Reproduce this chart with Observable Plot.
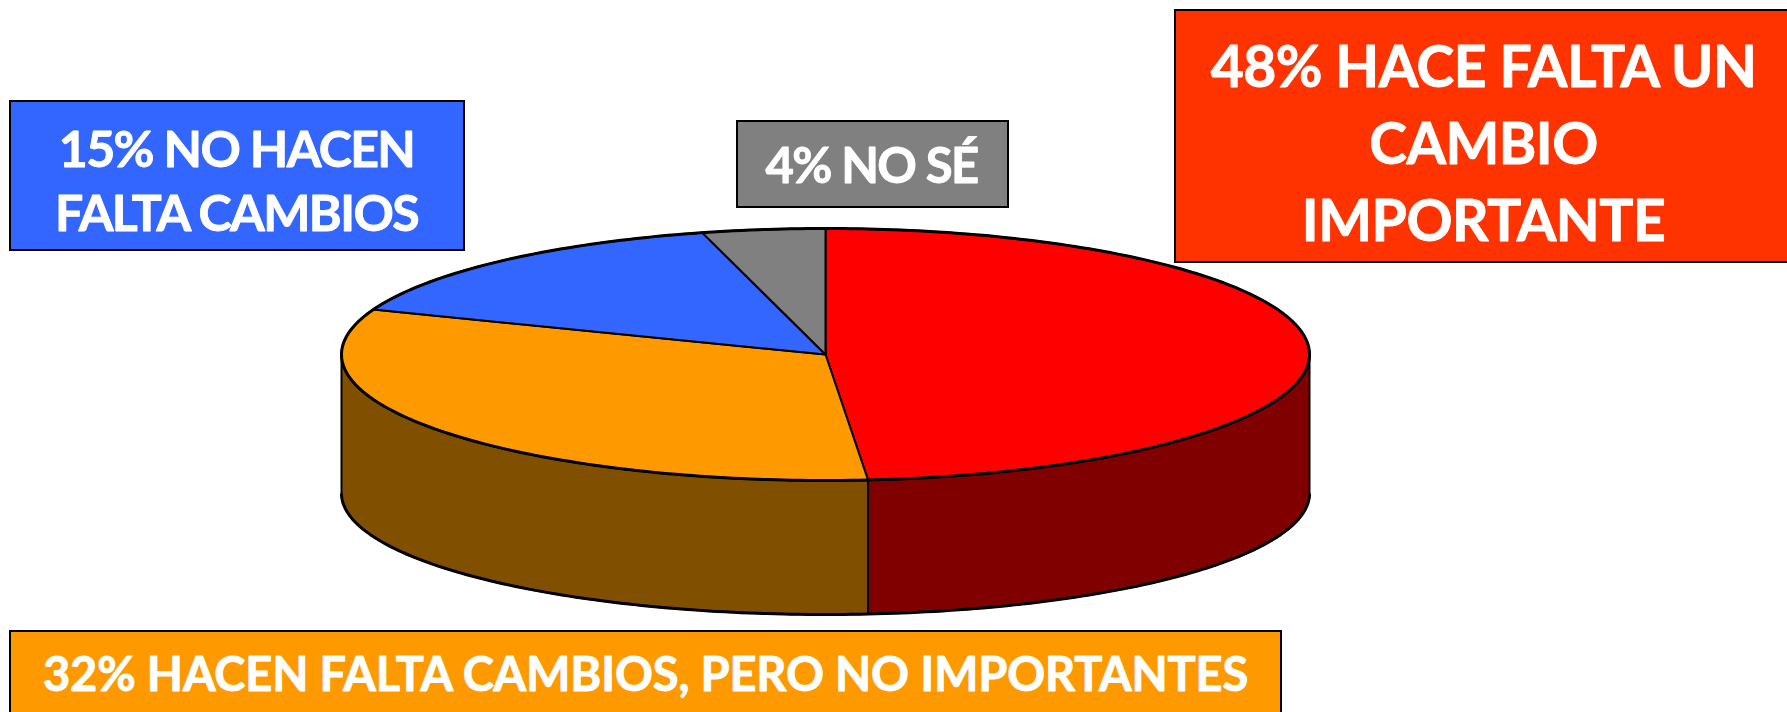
<!DOCTYPE html>
<html lang="es">
<head>
<meta charset="utf-8">
<title>Pie</title>
<script src="https://cdn.jsdelivr.net/npm/d3@7"></script>
<script src="https://cdn.jsdelivr.net/npm/@observablehq/plot@0.6"></script>
<style>
html,body{margin:0;padding:0;background:#fff;overflow:hidden}
svg{display:block}
</style>
</head>
<body>
<div id="chart"></div>
<script>
// Data
const categories = ["Hace falta un cambio importante", "Hacen falta cambios, pero no importantes", "No hacen falta cambios", "No sé"];
const shares = [48.6, 32.2, 15.1, 4.1];
const topColors = ["#ff0000", "#ff9900", "#3366ff", "#808080"];
const sideColors = ["#800000", "#804f00", "#1a3380", "#404040"];
const labels = ["48% HACE FALTA UN\nCAMBIO\nIMPORTANTE", "32% HACEN FALTA CAMBIOS, PERO NO IMPORTANTES", "15% NO HACEN\nFALTA CAMBIOS", "4% NO SÉ"];
const boxColors = ["#ff3300", "#ff9900", "#3366ff", "#808080"];

// Layout
const W = 1787, H = 712;
const cx = 825, cy = 354, rx = 484, ry = 126, depth = 139, bottomRy = 121;
const boxX1 = [1175, 10, 10, 737];
const boxX2 = [1800, 1281, 464, 1008];
const boxY1 = [10, 631, 101, 121];
const boxY2 = [262, 730, 250, 207];
const textX = [1483, 645, 236, 871];
const textY = [139, 675.7, 178, 166.6];
const fontSizes = [57, 47, 50, 49];
const lineHeights = [1.346, 1, 1.28, 1];
const tracking = [-0.5, -0.15, -1.6, -1.6];

const total = d3.sum(shares);
let acc = 0;
const slices = shares.map((v, i) => {
  const a0 = acc / total * 360;
  acc += v;
  return {i, a0, a1: acc / total * 360};
});
const px = a => cx + rx * Math.sin(a * Math.PI / 180);
const py = a => cy - ry * Math.cos(a * Math.PI / 180);
const pyBottom = a => cy + depth - bottomRy * Math.cos(a * Math.PI / 180);
const arc = (a0, a1) => {
  const out = [];
  const n = Math.max(2, Math.ceil(a1 - a0));
  for (let k = 0; k <= n; ++k) out.push(a0 + (a1 - a0) * k / n);
  return out;
};

const topPts = slices.flatMap(s => [
  {s: s.i, x: cx, y: cy},
  ...arc(s.a0, s.a1).map(a => ({s: s.i, x: px(a), y: py(a)}))
]);

const sidePts = slices.flatMap(s => {
  const a0 = Math.max(s.a0, 90), a1 = Math.min(s.a1, 270);
  if (a1 <= a0) return [];
  const as = arc(a0, a1);
  return [
    ...as.map(a => ({s: s.i, x: px(a), y: py(a)})),
    ...as.slice().reverse().map(a => ({s: s.i, x: px(a), y: pyBottom(a)}))
  ];
});

const rimPts = arc(0, 360).map(a => ({x: px(a), y: py(a)}));
const basePts = arc(90, 270).map(a => ({x: px(a), y: pyBottom(a)}));

const boxes = categories.map((c, i) => ({i, x1: boxX1[i], x2: boxX2[i], y1: boxY1[i], y2: boxY2[i]}));

const withTracking = v => function (index, scales, values, dims, ctx, next) {
  const g = next(index, scales, values, dims, ctx);
  g.style.letterSpacing = v + "px";
  return g;
};

const plot = Plot.plot({
  width: W, height: H,
  margin: 0,
  style: {background: "#fff"},
  x: {domain: [0, W], range: [0, W], axis: null},
  y: {domain: [0, H], range: [0, H], axis: null},
  marks: [
    Plot.line(sidePts, {x: "x", y: "y", z: "s", curve: "linear-closed",
      fill: d => sideColors[d.s], stroke: "#000", strokeWidth: 2, strokeLinejoin: "round"}),
    Plot.line(topPts, {x: "x", y: "y", z: "s", curve: "linear-closed",
      fill: d => topColors[d.s], stroke: "#000", strokeWidth: 2, strokeLinejoin: "round"}),
    Plot.line(rimPts, {x: "x", y: "y", stroke: "#000", strokeWidth: 3}),
    Plot.line(basePts, {x: "x", y: "y", stroke: "#000", strokeWidth: 3, strokeLinecap: "butt"}),
    Plot.rect(boxes, {x1: "x1", x2: "x2", y1: "y1", y2: "y2",
      fill: d => boxColors[d.i], stroke: "#000", strokeWidth: 2}),
    ...labels.map((t, i) => Plot.text([t], {
      x: () => textX[i], y: () => textY[i], text: d => d,
      fill: "#fff", stroke: "#fff", strokeWidth: 0.9, fontSize: fontSizes[i], fontWeight: 700, fontFamily: "Lato",
      lineHeight: lineHeights[i], textAnchor: "middle", lineAnchor: "middle",
      render: withTracking(tracking[i])
    }))
  ]
});
document.getElementById("chart").append(plot);
</script>
</body>
</html>
